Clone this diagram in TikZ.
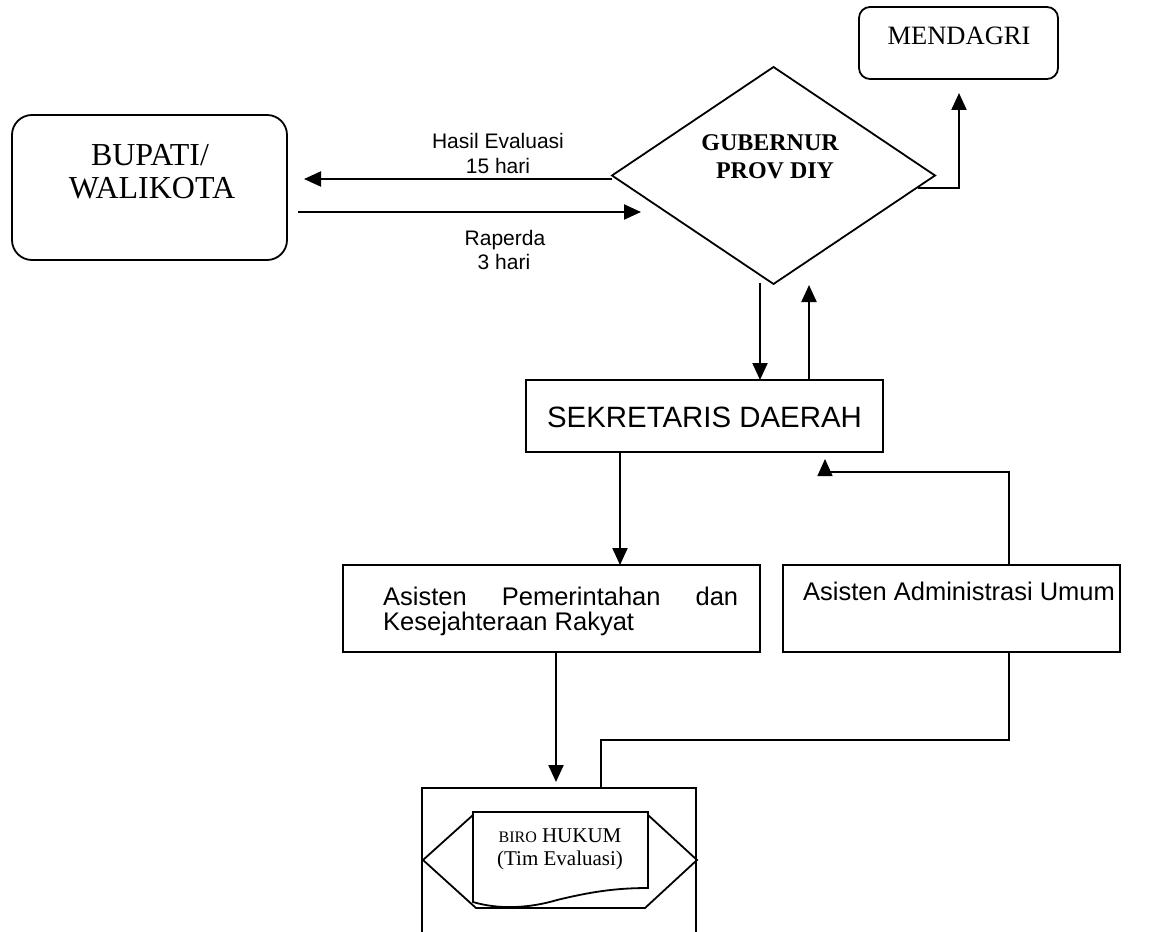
\documentclass[tikz,border=0pt]{standalone}
\usepackage{fontspec}
\setmainfont{Liberation Serif}
\newfontfamily\sansf{Liberation Sans}
\usetikzlibrary{shapes.geometric,arrows.meta}
\begin{document}
\begin{tikzpicture}[x=1pt,y=-1pt,
  shapebox/.style={draw,line width=1.8pt,inner sep=0pt,outer sep=0pt},
  arr/.style={line width=2.2pt,-{Triangle[length=17pt,width=15pt]}},
  conn/.style={line width=1.4pt},
  conntip/.style={conn,-{Triangle[length=17pt,width=15pt]}},
  txt/.style={inner sep=0pt,anchor=base},
  txtl/.style={inner sep=0pt,anchor=base west},
  serifbig/.style={font=\fontsize{32}{33}\selectfont},
  sanslab/.style={font=\sansf\fontsize{21}{21}\selectfont},
  sansbox/.style={font=\sansf\fontsize{25.5}{25.5}\selectfont}
]
\useasboundingbox (0,0) rectangle (1155,931);

% boxes
\node[shapebox,rounded corners=20pt,minimum width=275pt,minimum height=145pt] (bupati) at (149.5,187.5) {};
\node[shapebox,rounded corners=11pt,minimum width=199pt,minimum height=72pt] (mendagri) at (958.5,43) {};
\node[shapebox,diamond,minimum width=323pt,minimum height=217pt] (gub) at (773.5,175.5) {};
\node[shapebox,minimum width=357pt,minimum height=72pt] (sek) at (704.5,416) {};
\node[shapebox,minimum width=417pt,minimum height=87pt] (asp) at (551.5,608.5) {};
\node[shapebox,minimum width=337pt,minimum height=87pt] (asa) at (951.5,608.5) {};
\node[shapebox,minimum width=274pt,minimum height=200pt,anchor=north] (outer) at (559,788) {};

% preparation (hexagon) and document shapes
\draw[line width=1.8pt] (423,860) -- (473,815) -- (648,815) -- (697,860) -- (645,908) -- (476,908) -- cycle;
\draw[line width=1.8pt,fill=white] (473,812) -- (648,812) -- (648,888)
  .. controls (615,888) and (590,892) .. (557,900)
  .. controls (530,908) and (500,910) .. (473,902) -- cycle;

% texts
\node[txt,serifbig] (tb1) at (150,165) {BUPATI/};
\node[txt,serifbig] (tb2) at (152,198) {WALIKOTA};
\node[txt,font=\fontsize{26.5}{26.5}\selectfont] (tm) at (959,45) {MENDAGRI};
\node[txt,font=\bfseries\fontsize{24}{24}\selectfont] (tg1) at (770,150) {GUBERNUR};
\node[txt,font=\bfseries\fontsize{24}{24}\selectfont] (tg2) at (775,178) {PROV DIY};
\node[txt,sanslab] (th1) at (498,148) {Hasil Evaluasi};
\node[txt,sanslab] (th2) at (498,173) {15 hari};
\node[txt,sanslab] (tr1) at (505,245) {Raperda};
\node[txt,sanslab] (tr2) at (504,269) {3 hari};
\node[txt,font=\sansf\fontsize{29.4}{29.4}\selectfont] (ts) at (704.5,427) {SEKRETARIS DAERAH};
\node[txtl,sansbox] (tp1) at (383,605) {\makebox[355pt][s]{Asisten Pemerintahan dan}};
\node[txtl,sansbox] (tp2) at (383,630) {Kesejahteraan Rakyat};
\node[txtl,sansbox] (ta) at (803,600) {Asisten Administrasi Umum};
\node[txt,font=\fontsize{21}{21}\selectfont] (tbh1) at (560,842) {{\fontsize{16}{16}\selectfont BIRO} HUKUM};
\node[txt,font=\fontsize{21}{21}\selectfont] (tbh2) at (560,865) {(Tim Evaluasi)};

% connectors
\coordinate (hA) at (304,179);
\draw[arr] (gub.west |- hA) -- (hA);
\coordinate (rS) at (298,212);
\coordinate (rE) at (641,212);
\draw[arr] (rS) -- (rE);
\coordinate (mS) at (918,188);
\draw[arr] (mS) -| ([yshift=-14pt]mendagri.south -| 959,0);
\coordinate (d1) at (760,283);
\draw[arr] (d1) -- (d1 |- sek.north);
\coordinate (u1) at (809,285);
\draw[arr] (u1 |- sek.north) -- (u1);
\coordinate (d2) at (620,500);
\draw[arr] (d2 |- sek.south) -- (d2 |- asp.north);
\coordinate (k1) at (1009,472);
\coordinate (k1t) at (825,459);
\draw[conntip] (asa.north -| k1) -- (k1) -| (k1t);
\coordinate (d3) at (556,700);
\draw[arr] (d3 |- asp.south) -- ([yshift=6pt]outer.north -| d3);
\coordinate (k2) at (601,740);
\draw[conn] (asa.south -| k1) |- (k2) -- (k2 |- outer.north);
\end{tikzpicture}
\end{document}
